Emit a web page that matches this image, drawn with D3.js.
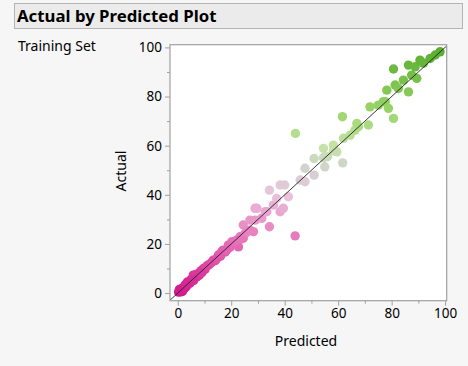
<!DOCTYPE html>
<html><head><meta charset="utf-8">
<script src="https://cdn.jsdelivr.net/npm/d3@7"></script>
<style>
html,body{margin:0;padding:0;background:#f6f6f6;}
svg{display:block;font-family:"Noto Sans","Open Sans",sans-serif;}
</style></head>
<body><svg id="c" width="468" height="366"></svg>
<script>
const title = "Actual by Predicted Plot";
const subtitle = "Training Set";
const xLabel = "Predicted";
const yLabel = "Actual";
const tickValues = [0, 20, 40, 60, 80, 100];
const minorTickValues = [10, 30, 50, 70, 90];
const predicted = [0.3,0.8,1.2,1.5,2.0,2.7,3.2,4.0,5.0,5.8,6.3,7.1,7.5,8.5,9.6,10.2,11.5,12.2,13.3,14.0,15.2,16.0,17.0,17.8,18.9,19.5,20.2,21.0,22.7,23.3,22.0,24.5,25.2,24.5,27.0,28.3,27.0,29.0,31.4,29.6,28.9,32.7,33.3,34.3,35.8,38.3,39.5,37.0,41.4,34.3,38.3,40.0,43.9,44.0,45.8,47.6,47.6,51.0,51.0,55.0,54.5,56.0,54.5,58.2,59.5,61.7,58.2,62.0,64.5,66.3,67.6,61.6,67.0,71.3,71.9,75.0,77.6,78.8,80.7,76.9,78.2,81.3,82.5,84.4,86.3,87.5,89.4,80.7,86.3,88.8,90.6,91.9,94.4,96.3,98.1,0.6,3.6,10.8,16.5,19.9,1.8,2.4,4.6,6.8,8.0,9.0,12.8,14.6,16.3,18.3,21.5,23.8,25.8,6.0,3.0];
const actual    = [0.4,0.9,0.5,1.9,1.3,3.3,2.6,3.8,5.5,7.3,6.2,6.6,7.8,9.0,10.0,9.6,11.4,12.0,13.4,13.2,15.5,15.0,17.5,16.8,19.5,18.6,20.9,20.0,18.8,22.9,21.5,22.3,24.3,27.7,25.6,25.0,29.7,29.7,30.4,34.5,34.5,33.1,33.1,27.0,35.8,33.1,34.5,38.5,39.2,41.9,44.0,44.0,23.3,65.0,46.0,45.3,50.8,48.0,54.8,51.4,55.1,55.5,58.9,57.9,57.5,53.0,60.2,63.0,64.3,66.3,67.7,71.8,69.0,68.4,75.8,76.5,77.9,75.2,71.1,77.9,82.6,84.7,83.3,86.7,81.9,88.7,87.4,91.2,92.8,92.1,94.8,93.6,95.5,96.9,98.2,1.5,4.5,11.0,17.0,19.2,0.8,1.8,4.0,7.6,7.2,8.3,12.6,14.0,15.8,17.5,21.0,22.0,24.8,5.2,3.6];

const svg = d3.select("#c");
// title bar
svg.append("rect").attr("x",14.5).attr("y",3.5).attr("width",448).attr("height",25)
  .attr("fill","#ebebeb").attr("stroke","#b4b4b4");
svg.append("text").attr("x",17).attr("y",22).attr("font-size",16.8).attr("font-weight","bold")
  .attr("fill","#000").text(title);
svg.append("text").attr("x",18).attr("y",51).attr("font-size",14).attr("fill","#000").text(subtitle);

const L=170, R=446.7, T=44.7, B=300.7;
const x = d3.scaleLinear().domain([-2.9,100.6]).range([L,R]);
const y = d3.scaleLinear().domain([-3.1,101.1]).range([B,T]);
const color = d3.scaleLinear()
  .domain([0,25,40,50,60,75,100])
  .range(["#d3178d","#e883c0","#e9c4dc","#d2d2d0","#c4e2a4","#98d468","#55ab2c"])
  .clamp(true);

svg.append("rect").attr("x",L).attr("y",T).attr("width",R-L).attr("height",B-T).attr("fill","#fff");
svg.append("defs").append("clipPath").attr("id","cp").append("rect")
  .attr("x",L).attr("y",T).attr("width",R-L).attr("height",B-T);
const g = svg.append("g").attr("clip-path","url(#cp)");
const idx = d3.range(predicted.length);
g.selectAll("circle").data(idx).join("circle")
  .attr("cx",i=>x(predicted[i])).attr("cy",i=>y(actual[i])).attr("r",4.7)
  .attr("fill",i=>color(actual[i]));
g.append("line").attr("x1",x(-5)).attr("y1",y(-5)).attr("x2",x(105)).attr("y2",y(105))
  .attr("stroke","#222").attr("stroke-width",0.9);
svg.append("rect").attr("x",L).attr("y",T).attr("width",R-L).attr("height",B-T)
  .attr("fill","none").attr("stroke","#a0a0a0").attr("stroke-width",1.2);

// axes
const xa = svg.append("g").attr("transform",`translate(0,${B})`)
  .call(d3.axisBottom(x).tickValues(tickValues).tickSize(5).tickPadding(3).tickSizeOuter(0));
const xm = svg.append("g").attr("transform",`translate(0,${B})`)
  .call(d3.axisBottom(x).tickValues(minorTickValues).tickSize(3).tickFormat("").tickSizeOuter(0));
const ya = svg.append("g").attr("transform",`translate(${L},0)`)
  .call(d3.axisLeft(y).tickValues(tickValues).tickSize(5).tickPadding(3).tickSizeOuter(0));
const ym = svg.append("g").attr("transform",`translate(${L},0)`)
  .call(d3.axisLeft(y).tickValues(minorTickValues).tickSize(3).tickFormat("").tickSizeOuter(0));
[xa,xm,ya,ym].forEach(a=>{
  a.select(".domain").remove();
  a.selectAll("line").attr("stroke","#a0a0a0");
  a.selectAll("text").attr("font-size",13.5).attr("fill","#000").attr("font-family","'Noto Sans',sans-serif");
});

svg.append("text").attr("x",306).attr("y",346).attr("text-anchor","middle").attr("font-size",14)
  .attr("fill","#000").text(xLabel);
svg.append("text").attr("transform","translate(126,171) rotate(-90)").attr("text-anchor","middle")
  .attr("font-size",14).attr("fill","#000").text(yLabel);
</script></body></html>
